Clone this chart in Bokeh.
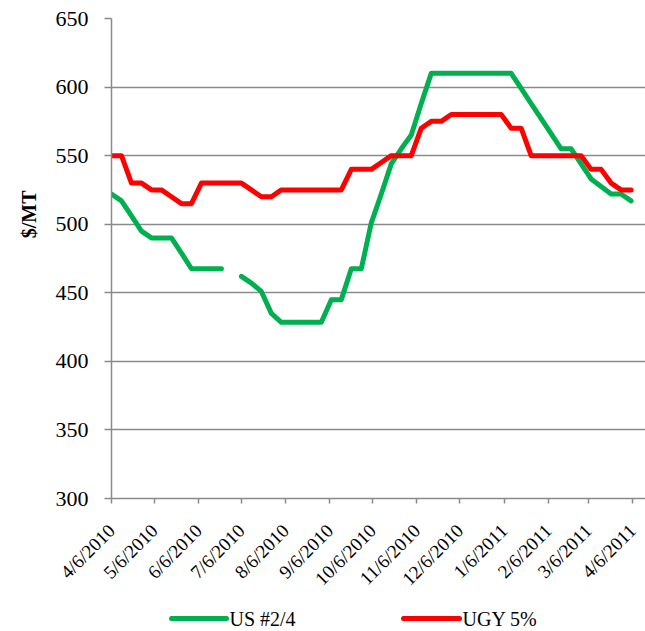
import math
import numpy as np
import pandas as pd
from bokeh.plotting import figure
from bokeh.layouts import column
from bokeh.models import FixedTicker, Range1d, Title
from bokeh.core.properties import value
from bokeh.embed import file_html
from bokeh.resources import INLINE

# ---- data (weekly observations, $/MT) ----
start_date = "2010-04-06"
n_weeks = 53
us_24 = [522, 517, 506, 495, 490, 490, 490, 479, 467.5, 467.5, 467.5, 467.5, np.nan,
         462, 457, 451, 435, 428.5, 428.5, 428.5, 428.5, 428.5, 445, 445, 467.5, 467.5,
         501, 522, 544, 555, 565, 588, 610, 610, 610, 610, 610, 610, 610, 610, 610,
         599, 588, 577, 566, 555, 555, 544, 533, 527.5, 522, 522, 517]
ugy_5 = [550, 550, 530, 530, 525, 525, 520, 515, 515, 530, 530, 530, 530, 530, 525,
         520, 520, 525, 525, 525, 525, 525, 525, 525, 540, 540, 540, 545, 550, 550, 550,
         570, 575, 575, 580, 580, 580, 580, 580, 580, 570, 570, 550, 550, 550, 550, 550,
         550, 540, 540, 530, 525, 525]
tick_labels = ["4/6/2010", "5/6/2010", "6/6/2010", "7/6/2010", "8/6/2010", "9/6/2010",
               "10/6/2010", "11/6/2010", "12/6/2010", "1/6/2011", "2/6/2011", "3/6/2011",
               "4/6/2011"]
y_ticks = [300, 350, 400, 450, 500, 550, 600, 650]
series_names = ["US #2/4", "UGY 5%"]
series_colors = ["#00B050", "#FF0000"]

EPOCH = pd.Timestamp("1970-01-01")
def to_ms(ts):
    return int((ts - EPOCH) / pd.Timedelta(milliseconds=1))

dates = pd.date_range(start_date, periods=n_weeks, freq="7D")
x_ms = [to_ms(d) for d in dates]
tick_ms = [to_ms(pd.to_datetime(t, format="%m/%d/%Y")) for t in tick_labels]

FONT = "'Liberation Serif', 'Times New Roman', serif"
x_start = tick_ms[0]
x_end = to_ms(pd.Timestamp("2011-04-15 02:24"))

p = figure(width=645, height=600, output_backend="svg", toolbar_location=None,
           x_range=Range1d(x_start, x_end), y_range=Range1d(300, 650),
           min_border_left=111, min_border_right=0, min_border_top=18,
           min_border_bottom=102)
p.outline_line_color = None
p.background_fill_color = "white"
p.border_fill_color = "white"

r1 = p.line(x_ms, us_24, line_color=series_colors[0], line_width=5,
            line_cap="round", line_join="round")
r2 = p.line(x_ms, ugy_5, line_color=series_colors[1], line_width=5,
            line_cap="round", line_join="round")

GRAY = "#8a8a8a"
xa = p.xaxis[0]
xa.ticker = FixedTicker(ticks=tick_ms)
xa.major_label_overrides = {t: l for t, l in zip(tick_ms, tick_labels)}
xa.major_label_orientation = math.pi / 4
xa.major_label_text_font = FONT
xa.major_label_text_font_size = "19px"
xa.major_label_text_color = "black"
xa.major_tick_out = 5
xa.major_tick_in = 0
xa.minor_tick_out = 0
xa.minor_tick_in = 0
xa.major_label_standoff = 24
xa.axis_line_color = GRAY
xa.axis_line_width = 1.5
xa.major_tick_line_color = GRAY
xa.major_tick_line_width = 1.5

ya = p.yaxis[0]
ya.ticker = FixedTicker(ticks=y_ticks)
ya.major_label_text_font = FONT
ya.major_label_text_font_size = "22px"
ya.major_label_text_color = "black"
ya.major_tick_out = 7
ya.major_tick_in = 0
ya.minor_tick_out = 0
ya.minor_tick_in = 0
ya.major_label_standoff = 16
ya.axis_line_color = GRAY
ya.axis_line_width = 1.5
ya.major_tick_line_color = GRAY
ya.major_tick_line_width = 1.5

p.xgrid.grid_line_color = None
p.ygrid.ticker = FixedTicker(ticks=y_ticks)
p.ygrid.grid_line_color = GRAY
p.ygrid.grid_line_width = 1.5

ytitle = Title(text="$/MT", align="right", offset=172, standoff=26,
               text_font=FONT, text_font_style="bold", text_font_size="20px",
               text_color="black")
p.add_layout(ytitle, "left")

# ---- legend strip below the chart (page-pixel coordinates; its frame is
# aligned with the chart frame, which spans x = 111..645) ----
leg = figure(width=645, height=31, output_backend="svg", toolbar_location=None,
             x_range=Range1d(111, 645), y_range=Range1d(0, 31),
             x_axis_location=None, y_axis_location=None,
             min_border=0, min_border_left=0, min_border_right=0,
             min_border_top=0, min_border_bottom=0)
leg.grid.visible = False
leg.outline_line_color = None
leg_swatch_x0 = [171, 403]
leg_swatch_x1 = [226, 459]
leg_y = 13
for name, color, x0, x1 in zip(series_names, series_colors, leg_swatch_x0, leg_swatch_x1):
    leg.line([x0, x1], [leg_y, leg_y], line_color=color, line_width=5, line_cap="round")
    leg.text([x1 + 3], [leg_y], text=[name], text_font=value(FONT),
             text_font_size="20px", text_baseline="middle", text_align="left",
             text_color="black")

layout = column(p, leg, spacing=0)
open("out.html", "w").write(file_html(layout, INLINE))
